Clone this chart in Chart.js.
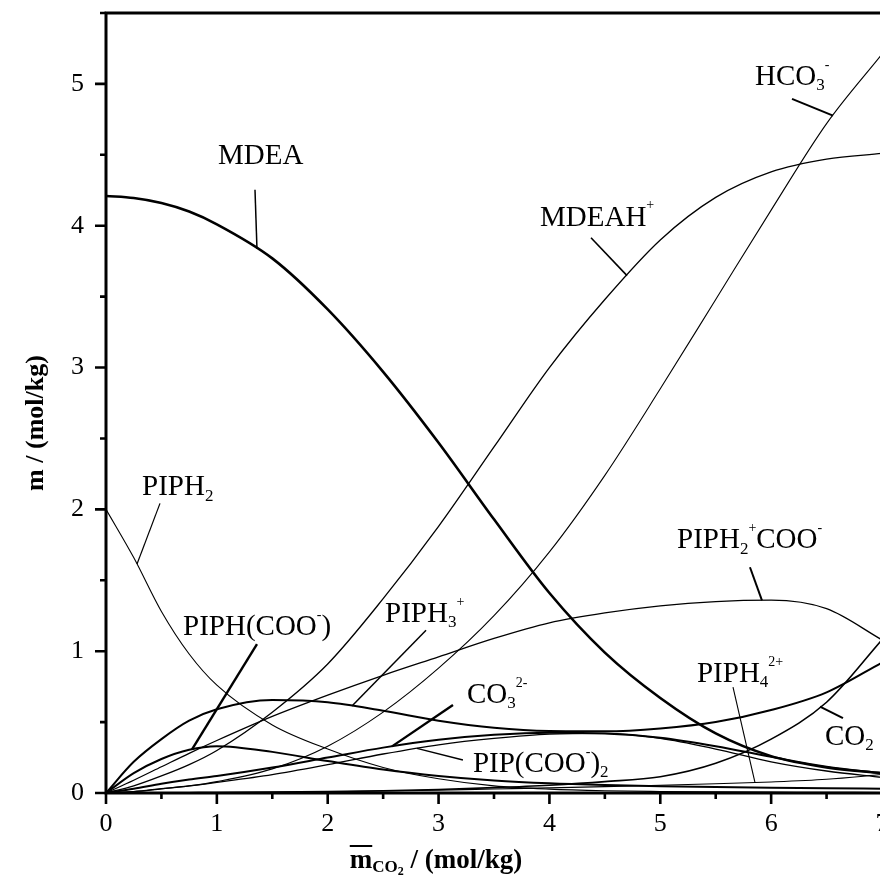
<!DOCTYPE html>
<html>
<head>
<meta charset="utf-8">
<script src="https://cdn.jsdelivr.net/npm/chart.js@4/dist/chart.umd.min.js"></script>
<style>
  html, body { margin: 0; padding: 0; background: #fff; overflow: hidden; }
  canvas { display: block; }
</style>
</head>
<body>
<canvas id="speciation" width="884" height="882"></canvas>
<script>
// CO2 loading (mol/kg) at which the species molalities are tabulated
const loading = [0, 0.25, 0.5, 0.75, 1, 1.5, 2, 2.5, 3, 3.5, 4, 4.5, 5, 5.5, 6, 6.5, 7];

// Species molalities m / (mol/kg)
const mdea      = [4.21, 4.195, 4.16, 4.10, 4.01, 3.77, 3.41, 2.97, 2.47, 1.93, 1.41, 0.99, 0.67, 0.42, 0.26, 0.18, 0.14];
const mdeah     = [0, 0.05, 0.12, 0.20, 0.30, 0.57, 0.91, 1.37, 1.88, 2.44, 3.00, 3.48, 3.90, 4.20, 4.38, 4.47, 4.51];
const hco3      = [0, 0.01, 0.03, 0.05, 0.08, 0.17, 0.33, 0.57, 0.88, 1.25, 1.70, 2.24, 2.85, 3.48, 4.11, 4.72, 5.21];
const piph2     = [2.0, 1.66, 1.28, 0.98, 0.76, 0.48, 0.31, 0.18, 0.10, 0.05, 0.027, 0.016, 0.011, 0.008, 0.006, 0.005, 0.004];
const piph3     = [0, 0.22, 0.38, 0.51, 0.59, 0.655, 0.64, 0.58, 0.51, 0.46, 0.437, 0.435, 0.455, 0.50, 0.585, 0.71, 0.92];
const piph2coo  = [0, 0.09, 0.185, 0.28, 0.37, 0.54, 0.69, 0.83, 0.96, 1.09, 1.20, 1.27, 1.32, 1.35, 1.36, 1.30, 1.08];
const piphcoo   = [0, 0.14, 0.24, 0.305, 0.33, 0.29, 0.225, 0.165, 0.12, 0.088, 0.068, 0.056, 0.048, 0.042, 0.037, 0.033, 0.03];
const co3       = [0, 0.03, 0.065, 0.095, 0.12, 0.18, 0.25, 0.32, 0.375, 0.41, 0.425, 0.42, 0.39, 0.33, 0.255, 0.185, 0.14];
const pipcoo2   = [0, 0.01, 0.03, 0.05, 0.075, 0.13, 0.20, 0.275, 0.34, 0.385, 0.415, 0.42, 0.385, 0.31, 0.22, 0.155, 0.11];
const co2       = [0, 0, 0.001, 0.002, 0.003, 0.006, 0.01, 0.016, 0.025, 0.038, 0.055, 0.08, 0.115, 0.21, 0.38, 0.64, 1.08];
const piph4     = [0, 0, 0, 0.001, 0.002, 0.004, 0.008, 0.014, 0.02, 0.028, 0.036, 0.045, 0.055, 0.065, 0.078, 0.097, 0.13];

// Axis ranges and tick spacing
const xRange = [0, 7];
const yRange = [0, 5.5];
const minorStep = 0.5;

const SERIF = "'Liberation Serif', 'Times New Roman', serif";

const seriesList = [
  { key: 'MDEA',      data: mdea,     width: 2.6 },
  { key: 'MDEAH+',    data: mdeah,    width: 1.3 },
  { key: 'HCO3-',     data: hco3,     width: 1.1 },
  { key: 'PIPH2',     data: piph2,    width: 1.1 },
  { key: 'PIPH3+',    data: piph3,    width: 2.0 },
  { key: 'PIPH2+COO-',data: piph2coo, width: 1.3 },
  { key: 'PIPH(COO-)',data: piphcoo,  width: 2.0 },
  { key: 'CO3 2-',    data: co3,      width: 2.0 },
  { key: 'PIP(COO-)2',data: pipcoo2,  width: 1.3 },
  { key: 'CO2',       data: co2,      width: 1.6 },
  { key: 'PIPH4 2+',  data: piph4,    width: 1.1 }
];

// Curve labels: rich text parts, anchor (left, baseline) in data units,
// and a leader from a start point to the curve at a given loading.
const labels = [
  { key: 'MDEA', parts: [['MDEA']], at: [1.010, 4.437], from: [1.344, 4.254], toX: 1.362, lw: 1.5 },
  { key: 'MDEAH+', parts: [['MDEAH'], ['+', 'sup']], at: [3.915, 4.00], from: [4.375, 3.915], toX: 4.700, lw: 1.6 },
  { key: 'HCO3-', parts: [['HCO'], ['3', 'sub'], ['-', 'sup']], at: [5.854, 4.993], from: [6.188, 4.894], toX: 6.558, lw: 2.0 },
  { key: 'PIPH2', parts: [['PIPH'], ['2', 'sub']], at: [0.325, 2.099], from: [0.487, 2.042], toX: 0.280, lw: 1.2 },
  { key: 'PIPH(COO-)', parts: [['PIPH(COO'], ['-', 'sup'], [')']], at: [0.695, 1.113], from: [1.362, 1.049], toX: 0.776, lw: 2.4 },
  { key: 'PIPH3+', parts: [['PIPH'], ['3', 'sub'], ['+', 'sup']], at: [2.517, 1.204], from: [2.887, 1.148], toX: 2.219, lw: 1.5 },
  { key: 'CO3 2-', parts: [['CO'], ['3', 'sub'], ['2-', 'sup']], at: [3.256, 0.634], from: [3.130, 0.620], toX: 2.580, lw: 2.4 },
  { key: 'PIP(COO-)2', parts: [['PIP(COO'], ['-', 'sup'], [')'], ['2', 'sub']], at: [3.310, 0.148], from: [3.220, 0.232], toX: 2.805, lw: 1.5 },
  { key: 'PIPH2+COO-', parts: [['PIPH'], ['2', 'sub'], ['+', 'sup'], ['COO'], ['-', 'sup']], at: [5.151, 1.725], from: [5.809, 1.592], toX: 5.917, lw: 2.0 },
  { key: 'PIPH4 2+', parts: [['PIPH'], ['4', 'sub'], ['2+', 'sup']], at: [5.331, 0.782], from: [5.656, 0.746], toX: 5.854, lw: 1.1 },
  { key: 'CO2', parts: [['CO'], ['2', 'sub']], at: [6.486, 0.338], from: [6.648, 0.528], toX: 6.441, lw: 2.0 }
];

function valueAt(arr, x) {
  for (let i = 1; i < loading.length; i++) {
    if (x <= loading[i]) {
      const t = (x - loading[i - 1]) / (loading[i] - loading[i - 1]);
      return arr[i - 1] + t * (arr[i] - arr[i - 1]);
    }
  }
  return arr[arr.length - 1];
}

function drawRich(ctx, parts, x, y, size, bold) {
  const w = bold ? 'bold ' : '';
  for (const [text, mode] of parts) {
    let fs = size, dy = 0;
    if (mode === 'sub') { fs = Math.round(size * 0.58); dy = size * 0.18; }
    else if (mode === 'sup') { fs = Math.round(size * 0.48); dy = -size * 0.56; }
    ctx.font = w + fs + 'px ' + SERIF;
    ctx.fillText(text, x, y + dy);
    x += ctx.measureText(text).width;
  }
}

const decorations = {
  id: 'decorations',
  afterDraw(chart) {
    const ctx = chart.ctx;
    const { left, right, top, bottom } = chart.chartArea;
    const xs = chart.scales.x, ys = chart.scales.y;
    ctx.save();
    ctx.strokeStyle = '#000';
    ctx.fillStyle = '#000';

    // frame: left, bottom and top axis lines
    ctx.lineWidth = 3;
    ctx.lineJoin = 'miter';
    ctx.beginPath();
    ctx.moveTo(right + 10, bottom);
    ctx.lineTo(left, bottom);
    ctx.lineTo(left, top);
    ctx.lineTo(right + 10, top);
    ctx.stroke();

    // outward major / minor tick marks
    ctx.lineWidth = 2.6;
    ctx.beginPath();
    for (const t of xs.ticks) {
      const px = xs.getPixelForValue(t.value);
      const len = Number.isInteger(t.value) ? 11 : 6;
      ctx.moveTo(px, bottom);
      ctx.lineTo(px, bottom + len);
    }
    for (const t of ys.ticks) {
      const py = ys.getPixelForValue(t.value);
      const len = Number.isInteger(t.value) ? 11 : 6;
      ctx.moveTo(left, py);
      ctx.lineTo(left - len, py);
    }
    ctx.stroke();

    // leaders and curve labels
    ctx.textBaseline = 'alphabetic';
    ctx.textAlign = 'left';
    for (const lb of labels) {
      const s = seriesList.find(d => d.key === lb.key);
      const x0 = xs.getPixelForValue(lb.from[0]);
      const y0 = ys.getPixelForValue(lb.from[1]);
      const x1 = xs.getPixelForValue(lb.toX);
      const y1 = ys.getPixelForValue(valueAt(s.data, lb.toX));
      ctx.lineWidth = lb.lw;
      ctx.beginPath();
      ctx.moveTo(x0, y0);
      ctx.lineTo(x1, y1);
      ctx.stroke();
      drawRich(ctx, lb.parts, xs.getPixelForValue(lb.at[0]), ys.getPixelForValue(lb.at[1]), 29, false);
    }

    // y axis title
    ctx.save();
    ctx.translate(36, (top + bottom) / 2 + 20);
    ctx.rotate(-Math.PI / 2);
    ctx.textAlign = 'center';
    ctx.textBaseline = 'middle';
    ctx.font = 'bold 26px ' + SERIF;
    ctx.fillText('m / (mol/kg)', 0, 0);
    ctx.restore();

    // x axis title: barred m with CO2 subscript
    const base = 868;
    const big = 'bold 27px ' + SERIF, mid = 'bold 17px ' + SERIF, small = 'bold 12px ' + SERIF;
    ctx.font = big; const wm = ctx.measureText('m').width;
    ctx.font = mid; const wco = ctx.measureText('CO').width;
    ctx.font = small; const w2 = ctx.measureText('2').width;
    ctx.font = big; const wrest = ctx.measureText(' / (mol/kg)').width;
    let x = 436 - (wm + wco + w2 + wrest) / 2;
    ctx.font = big; ctx.fillText('m', x, base);
    ctx.lineWidth = 2;
    ctx.beginPath(); ctx.moveTo(x, base - 22); ctx.lineTo(x + wm, base - 22); ctx.stroke();
    x += wm;
    ctx.font = mid; ctx.fillText('CO', x, base + 4); x += wco;
    ctx.font = small; ctx.fillText('2', x, base + 7); x += w2;
    ctx.font = big; ctx.fillText(' / (mol/kg)', x, base);
    ctx.restore();
  }
};

Chart.defaults.font.family = SERIF;
Chart.defaults.color = '#000';

new Chart(document.getElementById('speciation'), {
  type: 'line',
  data: {
    datasets: seriesList.map(s => ({
      label: s.key,
      data: loading.map((x, i) => ({ x, y: s.data[i] })),
      borderColor: '#000',
      borderWidth: s.width,
      pointRadius: 0,
      fill: false,
      cubicInterpolationMode: 'monotone'
    }))
  },
  options: {
    responsive: false,
    animation: false,
    devicePixelRatio: 1,
    layout: { padding: { left: 0, top: 13, right: 2, bottom: 0 } },
    plugins: { legend: { display: false }, tooltip: { enabled: false } },
    scales: {
      x: {
        type: 'linear',
        min: xRange[0], max: xRange[1],
        grid: { display: false, drawTicks: false },
        border: { display: false },
        ticks: {
          stepSize: minorStep, autoSkip: false, maxRotation: 0, padding: 16,
          font: { size: 26 },
          callback: v => Number.isInteger(v) ? String(v) : ''
        },
        afterFit: s => { s.height = 89; s.paddingLeft = 0; s.paddingRight = 0; }
      },
      y: {
        type: 'linear',
        min: yRange[0], max: yRange[1],
        grid: { display: false, drawTicks: false },
        border: { display: false },
        ticks: {
          stepSize: minorStep, autoSkip: false, padding: 22,
          font: { size: 26 },
          callback: v => Number.isInteger(v) ? String(v) : ''
        },
        afterFit: s => { s.width = 106; s.paddingTop = 0; s.paddingBottom = 0; }
      }
    }
  },
  plugins: [decorations]
});
</script>
</body>
</html>
